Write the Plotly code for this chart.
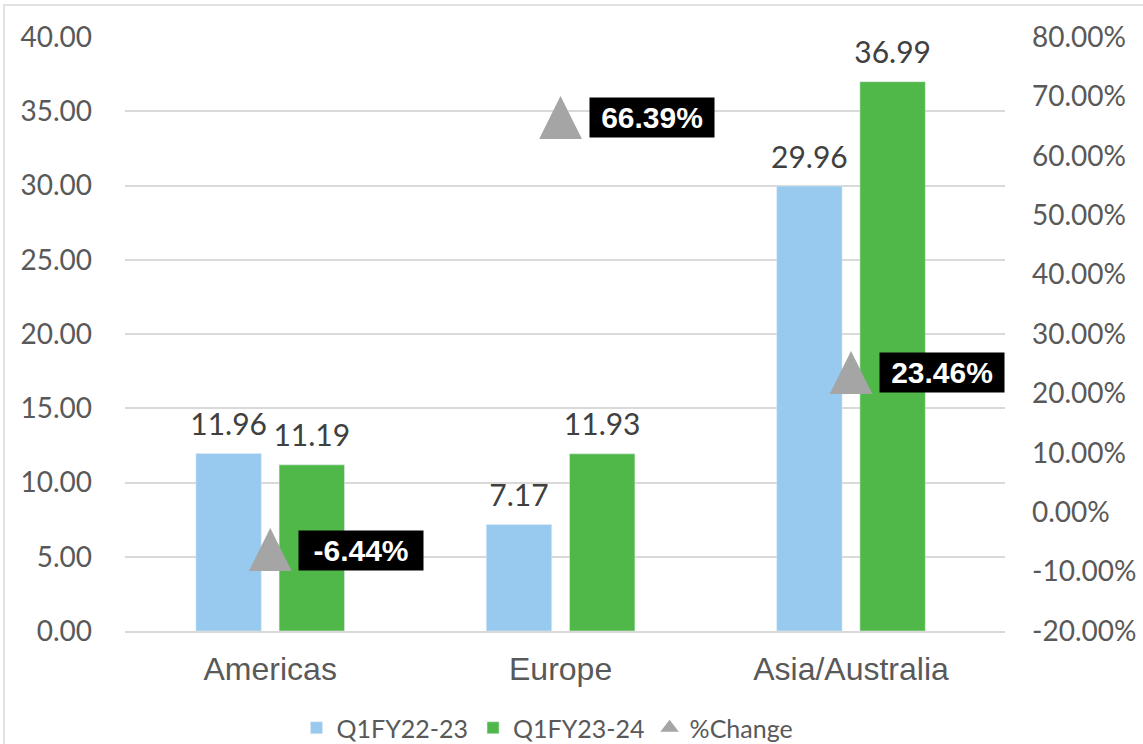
import plotly.graph_objects as go

categories = ["Americas", "Europe", "Asia/Australia"]
q1fy22_23 = [11.96, 7.17, 29.96]
q1fy23_24 = [11.19, 11.93, 36.99]
pct_change = [-6.44, 66.39, 23.46]
left_ticks = [0, 5, 10, 15, 20, 25, 30, 35, 40]
right_ticks = [-20, -10, 0, 10, 20, 30, 40, 50, 60, 70, 80]
right_tick_labels = [f"{t:.2f}%" for t in right_ticks]

FONT = "Lato"
fig = go.Figure()
fig.add_trace(go.Bar(
    x=categories, y=q1fy22_23, name="Q1FY22-23",
    marker_color="#97CAEE", offsetgroup="a",
))
fig.add_trace(go.Bar(
    x=categories, y=q1fy23_24, name="Q1FY23-24",
    marker_color="#50B848", offsetgroup="b",
))
# value labels, grouped like the bars
for vals, grp in [(q1fy22_23, "a"), (q1fy23_24, "b")]:
    fig.add_trace(go.Scatter(
        x=categories, y=vals, mode="markers+text",
        text=[f"{v:.2f}" for v in vals], textposition="top center",
        textfont=dict(size=30, color="#404040", family=FONT),
        marker=dict(size=16, opacity=0),
        offsetgroup=grp, alignmentgroup="labels",
        showlegend=False, hoverinfo="skip", cliponaxis=False,
    ))
# legend entry for %Change
fig.add_trace(go.Scatter(
    x=[None], y=[None], name="%Change", yaxis="y2", mode="markers",
    marker=dict(symbol="triangle-up", size=20, color="#A5A5A5"),
    offsetgroup="t", alignmentgroup="tri",
))
# triangles drawn as glyphs so they keep the tall shape
fig.add_trace(go.Scatter(
    x=categories, y=pct_change, name="%Change", yaxis="y2",
    mode="text", text=["▲"] * len(categories), textposition="middle center",
    textfont=dict(size=56, color="#A5A5A5", family="DejaVu Sans"),
    showlegend=False, cliponaxis=False,
    offsetgroup="t", alignmentgroup="tri",
))

for c, v in zip(categories, pct_change):
    fig.add_annotation(
        x=c, y=v, xref="x", yref="y2",
        text=f"<b>{v:.2f}%</b>", showarrow=False,
        xanchor="left", yanchor="middle", xshift=28,
        font=dict(size=30, color="white", family="Liberation Sans"),
        bgcolor="black", borderpad=3, width=118, align="center",
    )

fig.update_layout(
    width=1143, height=744,
    margin=dict(l=125, r=138, t=37, b=113, autoexpand=False),
    paper_bgcolor="white", plot_bgcolor="white",
    barmode="group", bargap=0.427, bargroupgap=0.214,
    scattermode="group", scattergap=0.427,
    font=dict(family=FONT, color="#595959", size=22),
    showlegend=True,
    legend=dict(orientation="h", x=0.479, xanchor="center", xref="container",
                y=-0.1633, yanchor="middle", yref="paper",
                font=dict(size=25, color="#595959", family=FONT),
                itemwidth=30, tracegroupgap=0),
    xaxis=dict(tickfont=dict(size=32, color="#595959", family="Liberation Sans"),
               showgrid=False, showline=True, linecolor="#D9D9D9", linewidth=1.5,
               ticks="", ticklabelstandoff=9, automargin=False),
    yaxis=dict(range=[0, 40], tickvals=left_ticks, tickformat=".2f", showgrid=True,
               gridcolor="#D9D9D9", gridwidth=1.5, zeroline=False,
               tickfont=dict(size=28, color="#595959"), ticklabelstandoff=32,
               automargin=False),
    yaxis2=dict(range=[-20, 80], tickvals=right_ticks, ticktext=right_tick_labels,
                overlaying="y", side="right", showgrid=False, zeroline=False,
                tickfont=dict(size=28, color="#595959"), ticklabelstandoff=26,
                automargin=False),
    shapes=[dict(type="rect", xref="paper", yref="paper",
                 x0=-121/880, x1=1.16, y0=-113/594 - 0.01, y1=1 + 32/594,
                 line=dict(color="#D9D9D9", width=1.5))],
)

fig.write_html("out.html", config={"displayModeBar": False},
               post_script="document.body.style.margin='0';")
